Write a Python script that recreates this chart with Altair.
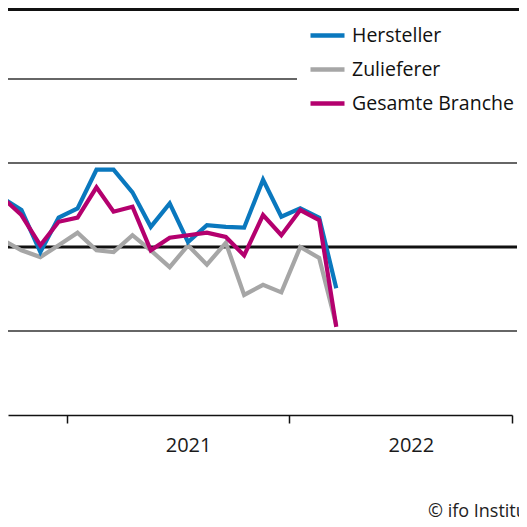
import altair as alt
import pandas as pd

# ---- data ----
months = ["2020-09-19", "2020-10-19", "2020-11-19", "2020-12-19",
          "2021-01-19", "2021-02-19", "2021-03-19", "2021-04-19",
          "2021-05-19", "2021-06-19", "2021-07-19", "2021-08-19",
          "2021-09-19", "2021-10-19", "2021-11-19", "2021-12-19",
          "2022-01-19", "2022-02-19", "2022-03-19"]
hersteller = [5.8, 4.4, -0.6, 3.5, 4.6, 9.2, 9.2, 6.5, 2.4, 5.2,
              0.6, 2.6, 2.4, 2.3, 8.0, 3.6, 4.6, 3.5, -4.9]
zulieferer = [0.8, -0.4, -1.2, 0.2, 1.7, -0.4, -0.6, 1.4, -0.4, -2.4,
              0.2, -2.1, 0.5, -5.7, -4.5, -5.4, 0.0, -1.3, -9.3]
gesamt = [5.8, 3.8, 0.2, 3.0, 3.5, 7.1, 4.2, 4.8, -0.4, 1.1,
          1.4, 1.7, 1.2, -1.0, 3.8, 1.4, 4.4, 3.2, -9.5]

series_names = ["Hersteller", "Zulieferer", "Gesamte Branche"]
series_colors = ["#0a78be", "#a6a6a6", "#b4006e"]

year_labels = ["2021", "2022"]
year_label_dates = ["2021-07-20", "2022-07-20"]
grid_full = [10, -10]
grid_short = [20]
zero_line = [0]
copyright_text = ["© ifo Institut"]

# ---- tables ----
rows = []
for name, vals in [("Zulieferer", zulieferer), ("Hersteller", hersteller),
                   ("Gesamte Branche", gesamt)]:
    for d, v in zip(months, vals):
        rows.append({"date": d, "value": v, "series": name})
df = pd.DataFrame(rows)

years_df = pd.DataFrame({"date": year_label_dates, "label": year_labels})

def utc(y, m, d):
    return alt.DateTime(year=y, month=m, date=d, utc=True)

xscale = alt.Scale(type="utc", domain=[utc(2020, 9, 27), utc(2023, 1, 1)])
yscale = alt.Scale(domain=[-20, 28.45], nice=False, zero=False)
xaxis = alt.Axis(values=[utc(2021, 1, 1), utc(2022, 1, 1), utc(2023, 1, 1)],
                 labels=False, grid=False, title=None,
                 domainColor="#111", domainWidth=1.5,
                 tickColor="#111", tickWidth=1.5, tickSize=8)

grid_a = alt.Chart(pd.DataFrame({"v": grid_full})).mark_rule(
    color="#333", strokeWidth=1.3).encode(
    y=alt.Y("v:Q", scale=yscale, axis=None),
    x=alt.value(0), x2=alt.value(509))

grid_b = alt.Chart(pd.DataFrame({"v": grid_short})).mark_rule(
    color="#333", strokeWidth=1.3).encode(
    y=alt.Y("v:Q", scale=yscale, axis=None),
    x=alt.value(0), x2=alt.value(289))

zero = alt.Chart(pd.DataFrame({"v": zero_line})).mark_rule(
    color="#111", strokeWidth=3).encode(
    y=alt.Y("v:Q", scale=yscale, axis=None),
    x=alt.value(0), x2=alt.value(509))

top = alt.Chart(pd.DataFrame({"v": zero_line})).mark_rule(
    color="#111", strokeWidth=3).encode(
    y=alt.value(1.5), x=alt.value(0), x2=alt.value(530))

lines = alt.Chart(df).mark_line(strokeWidth=4.2, clip=True).encode(
    x=alt.X("date:T", scale=xscale, axis=xaxis),
    y=alt.Y("value:Q", scale=yscale, axis=None),
    color=alt.Color("series:N",
                    scale=alt.Scale(domain=series_names, range=series_colors),
                    legend=alt.Legend(title=None, orient="none", direction="vertical",
                                      legendX=300, legendY=8,
                                      symbolType="stroke", symbolSize=1156,
                                      symbolStrokeWidth=4.5,
                                      labelFont="Open Sans", labelFontSize=19.5,
                                      labelColor="#111", labelLimit=400,
                                      rowPadding=5, padding=0, labelOffset=5)),
    detail="series:N",
)

year_text = alt.Chart(years_df).mark_text(
    font="Open Sans", fontSize=20, color="#1a1a1a", baseline="middle",
    align="center").encode(
    x=alt.X("date:T", scale=xscale, axis=xaxis),
    y=alt.value(438), text="label:N")

copy = alt.Chart(pd.DataFrame({"t": copyright_text})).mark_text(
    font="Open Sans", fontSize=18, color="#222", baseline="alphabetic",
    align="left").encode(
    x=alt.value(420), y=alt.value(509), text="t:N")

chart = alt.layer(grid_a, grid_b, zero, top, lines, year_text, copy).properties(
    width=504, height=407,
    autosize=alt.AutoSizeParams(type="none"),
    padding={"left": 0, "top": 0, "right": 7, "bottom": 104},
).configure_view(stroke=None)

chart.save("out.html", embed_options={"renderer": "svg", "actions": False})
